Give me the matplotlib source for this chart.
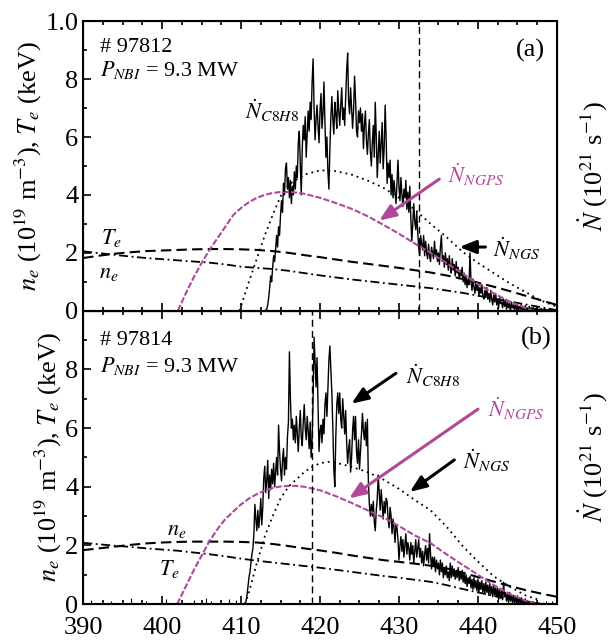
import numpy as np
import matplotlib
matplotlib.use("Agg")
import matplotlib.pyplot as plt
from matplotlib.ticker import MultipleLocator

plt.rcParams['font.family'] = ['Liberation Serif', 'DejaVu Serif']
plt.rcParams['mathtext.fontset'] = 'stix'

MAGENTA = '#b0489a'

# smooth profiles, sampled every 2 s
t_smooth = [390, 392, 394, 396, 398, 400, 402, 404, 406, 408, 410, 412, 414, 416, 418, 420,
            422, 424, 426, 428, 430, 432, 434, 436, 438, 440, 442, 444, 446, 448, 450]

# shot 97812
a_dash = [1.82, 1.90, 1.97, 2.02, 2.06, 2.08, 2.10, 2.12, 2.13, 2.13, 2.12, 2.10, 2.06, 2.00, 1.92, 1.85,
          1.77, 1.69, 1.62, 1.55, 1.48, 1.40, 1.32, 1.22, 1.10, 0.97, 0.83, 0.68, 0.52, 0.36, 0.20]
a_dashdot = [2.05, 1.99, 1.93, 1.87, 1.82, 1.78, 1.74, 1.70, 1.66, 1.60, 1.52, 1.48, 1.44, 1.38, 1.30, 1.22,
             1.15, 1.08, 1.02, 0.96, 0.90, 0.84, 0.78, 0.70, 0.62, 0.52, 0.42, 0.32, 0.22, 0.12, 0.02]
a_ngps_t = [402, 403, 404, 405, 406, 407, 408, 409, 410, 411, 412, 413, 414, 415, 416, 417, 418, 420,
            422, 424, 426, 428, 430, 432, 434, 436, 438, 440, 442, 444, 446, 447]
a_ngps = [0.0, 0.6, 1.15, 1.65, 2.1, 2.5, 2.9, 3.3, 3.55, 3.75, 3.9, 4.0, 4.07, 4.1, 4.1, 4.08, 4.04, 3.9,
          3.72, 3.52, 3.27, 2.97, 2.66, 2.32, 2.0, 1.65, 1.3, 0.92, 0.6, 0.32, 0.1, 0.0]
a_ngs_t = [409.8, 411, 412, 413, 414, 415, 416, 418, 420, 422, 424, 426, 428, 430, 432, 434, 436, 438,
           440, 442, 444, 446, 448, 450]
a_ngs = [0.0, 1.0, 1.8, 2.6, 3.3, 3.95, 4.35, 4.7, 4.85, 4.82, 4.7, 4.5, 4.25, 3.9, 3.5, 3.0, 2.55, 2.05,
         1.65, 1.3, 0.95, 0.65, 0.35, 0.14]
# C8H8 rate, one value every 0.125 s from 413.0 s
a_c8h8_start = 413.0
a_c8h8 = [0.0, 0.02, 0.05, 0.2, 0.45, 0.8, 1.2, 1.0, 1.5, 1.9, 1.7, 2.1, 2.6, 2.2, 2.9, 2.6,
          3.3, 3.8, 3.4, 4.4, 4.0, 4.9, 5.1, 4.2, 4.6, 3.9, 4.5, 3.7, 4.3, 4.0, 4.8, 4.2,
          5.0, 4.6, 5.8, 6.2, 5.1, 4.0, 5.6, 6.4, 5.9, 6.7, 5.3, 6.1, 6.9, 6.2, 7.2, 6.6,
          7.9, 8.7, 7.0, 5.9, 6.6, 7.1, 6.4, 5.8, 6.9, 7.5, 6.3, 6.8, 7.9, 6.5, 5.3, 6.0,
          4.8, 4.2, 5.6, 6.7, 7.4, 6.6, 6.1, 7.2, 6.8, 6.3, 7.6, 6.9, 6.4, 7.1, 7.7, 6.6,
          7.0, 6.4, 7.3, 8.3, 8.9, 7.2, 6.8, 7.7, 7.0, 6.3, 6.9, 8.1, 7.3, 6.2, 6.0, 6.9,
          6.5, 7.0, 6.2, 6.8, 5.6, 6.4, 6.9, 5.9, 5.4, 6.1, 6.6, 5.5, 5.0, 5.8, 6.4, 5.3,
          7.2, 6.0, 4.6, 5.4, 6.2, 5.1, 5.8, 6.5, 4.9, 5.6, 7.1, 6.0, 4.4, 5.1, 4.6, 5.2,
          4.0, 4.7, 3.9, 4.5, 4.1, 3.7, 4.4, 5.2, 4.3, 3.8, 4.6, 4.0, 3.6, 4.2, 3.9, 4.5,
          3.5, 4.1, 3.4, 4.3, 3.2, 2.4, 3.0, 3.7, 3.1, 2.8, 3.4, 2.7, 2.2, 1.9, 2.6, 2.3,
          2.1, 2.6, 1.9, 2.4, 2.0, 1.8, 2.3, 1.9, 1.7, 2.2, 2.0, 1.8, 2.4, 1.9, 2.1, 1.7,
          2.0, 1.6, 2.2, 2.6, 1.7, 1.9, 1.5, 2.0, 1.6, 1.8, 1.4, 1.9, 1.5, 1.3, 1.8, 1.4,
          1.6, 1.2, 1.7, 1.3, 1.5, 1.1, 1.4, 1.2, 1.5, 1.0, 1.3, 0.9, 1.2, 0.8, 1.1, 0.9,
          2.0, 1.0, 0.7, 1.1, 0.8, 0.6, 1.0, 0.7, 0.9, 0.5, 0.8, 0.6, 0.9, 0.5, 0.4, 0.7,
          0.5, 0.8, 0.4, 0.6, 0.3, 0.7, 0.4, 0.2, 0.55, 0.3, 0.6, 0.2, 0.4, 0.1, 0.45, 0.25,
          0.3, 0.1, 0.4, 0.15, 0.35, 0.05, 0.3, 0.1, 0.25, -0.05, 0.3, 0.1, 0.2, 0.0, 0.25, 0.05,
          0.2, 0.0, 0.15, 0.05, 0.22, -0.05, 0.12, 0.02, 0.18, 0.0, 0.1, -0.03, 0.15, 0.02, 0.1, 0.0,
          0.12, 0.0, 0.08, 0.02, 0.1, -0.02, 0.06, 0.0, 0.08, 0.02, 0.05, 0.0, 0.07, 0.0, 0.04, 0.0,
          0.05, 0.0, 0.03, 0.01, 0.04, 0.0, 0.02, 0.0, 0.01]

# shot 97814
b_dash = [1.84, 1.90, 1.96, 2.02, 2.07, 2.10, 2.12, 2.13, 2.13, 2.13, 2.12, 2.10, 2.05, 1.98, 1.90, 1.83,
          1.75, 1.66, 1.58, 1.50, 1.44, 1.38, 1.31, 1.22, 1.08, 0.92, 0.77, 0.62, 0.48, 0.36, 0.25]
b_dashdot = [2.09, 2.04, 1.99, 1.95, 1.90, 1.86, 1.82, 1.76, 1.70, 1.63, 1.55, 1.48, 1.42, 1.36, 1.30, 1.24,
             1.17, 1.10, 1.03, 0.96, 0.90, 0.83, 0.76, 0.65, 0.52, 0.40, 0.28, 0.17, 0.08, 0.02, 0.0]
b_ngps_t = [401.9, 403, 404, 405, 406, 407, 408, 409, 410, 411, 412, 413, 414, 415, 416, 417, 418, 420,
            422, 424, 426, 428, 430, 432, 434, 436, 438, 440, 442, 444, 446, 447.5]
b_ngps = [0.0, 0.6, 1.15, 1.65, 2.15, 2.55, 2.9, 3.15, 3.4, 3.6, 3.75, 3.87, 3.96, 4.01, 4.03, 4.03, 4.0, 3.88,
          3.68, 3.45, 3.2, 2.96, 2.66, 2.34, 2.08, 1.7, 1.35, 1.0, 0.65, 0.35, 0.12, 0.0]
b_ngs_t = [410.5, 411, 412, 413, 414, 415, 416, 418, 419, 420, 421, 422, 424, 426, 428, 430, 432, 434,
           436, 438, 440, 442, 444, 446, 448]
b_ngs = [0.0, 0.4, 1.4, 2.3, 3.0, 3.6, 4.0, 4.5, 4.68, 4.8, 4.85, 4.82, 4.68, 4.5, 4.25, 3.93, 3.55, 3.2,
         2.65, 2.0, 1.45, 0.95, 0.6, 0.3, 0.12]
# C8H8 rate, one value every 0.125 s from 410.5 s
b_c8h8_start = 410.5
b_c8h8 = [0.0, 0.1, 0.3, 0.6, 0.9, 1.1, 1.4, 1.7, 1.9, 2.4, 3.4, 2.9, 2.5, 3.2, 2.6, 3.0,
          3.6, 2.7, 3.3, 4.3, 4.7, 3.8, 4.2, 4.9, 3.6, 4.4, 3.9, 4.6, 4.1, 4.8, 4.0, 4.5,
          5.0, 4.4, 6.1, 5.2, 4.6, 4.2, 4.9, 5.3, 4.4, 5.0, 4.6, 5.7, 6.2, 8.6, 7.0, 6.0,
          6.3, 5.6, 6.1, 5.5, 6.4, 5.8, 5.2, 6.0, 6.6, 5.7, 5.4, 6.2, 6.8, 6.0, 5.6, 6.4,
          5.9, 5.3, 6.2, 5.0, 5.6, 7.0, 9.1, 8.2, 7.4, 8.4, 6.8, 5.2, 5.9, 6.1, 5.5, 6.3,
          5.8, 6.8, 7.2, 6.4, 7.4, 8.3, 8.8, 8.0, 7.2, 6.0, 4.6, 4.0, 5.7, 6.8, 7.2, 6.5,
          7.2, 6.3, 6.0, 7.0, 6.4, 5.8, 6.6, 5.5, 4.8, 5.3, 5.6, 4.5, 5.0, 5.9, 6.4, 5.6,
          6.4, 5.2, 4.8, 5.6, 4.6, 5.2, 5.8, 6.5, 5.9, 5.6, 6.2, 5.4, 6.3, 4.2, 3.4, 3.0,
          3.4, 3.0, 3.5, 2.8, 2.5, 3.2, 3.6, 4.4, 3.8, 3.2, 3.9, 3.4, 2.9, 3.5, 3.1, 3.6,
          3.5, 2.9, 2.6, 3.3, 3.0, 2.4, 2.9, 2.6, 2.1, 2.7, 2.6, 2.2, 1.5, 2.0, 2.3, 1.8,
          2.2, 1.6, 2.0, 2.4, 1.7, 2.1, 1.9, 1.5, 2.1, 1.7, 2.0, 1.4, 1.8, 2.2, 1.6, 1.9,
          2.2, 1.6, 1.9, 1.4, 1.8, 1.3, 1.7, 2.0, 1.5, 1.9, 1.4, 2.4, 1.7, 1.2, 1.6, 1.3,
          1.6, 1.1, 1.5, 1.2, 1.4, 1.0, 1.5, 1.1, 1.4, 0.9, 1.2, 1.0, 1.3, 0.9, 1.1, 0.8,
          1.4, 0.9, 1.3, 0.95, 1.2, 0.85, 1.15, 0.9, 1.25, 0.8, 1.1, 0.85, 1.15, 0.75, 1.05, 0.7,
          1.0, 0.6, 0.9, 0.7, 0.95, 0.55, 0.85, 0.5, 0.9, 0.55, 0.8, 0.45, 0.85, 0.4, 0.75, 0.5,
          0.8, 0.4, 0.7, 0.35, 0.75, 0.4, 0.65, 0.3, 0.7, 0.35, 0.6, 0.25, 0.65, 0.3, 0.55, 0.25,
          0.55, 0.15, 0.5, 0.2, 0.45, 0.15, 0.75, 0.25, 0.4, 0.1, 0.35, 0.05, 0.4, 0.1, 0.3, 0.05,
          0.3, 0.05, 0.25, 0.0, 0.28, 0.05, 0.2, 0.0, 0.22, 0.02, 0.15, 0.0, 0.18, 0.0, 0.12, 0.02,
          0.1, 0.0, 0.06, 0.0, 0.08, 0.0, 0.05, 0.0, 0.03, 0.0, 0.04, 0.0, 0.02]
b_spike_t = [391.0, 393.5, 396.0, 398.0, 400.5, 404.0, 405.5, 406.2, 408.5, 409.3, 448.6, 449.4]
b_spike_h = [0.15, 0.12, 0.2, 0.1, 0.18, 0.15, 0.22, 0.12, 0.18, 0.14, 0.12, 0.1]

fig = plt.figure(figsize=(6.16, 6.42), dpi=100)
ax_a = fig.add_axes([0.135, 0.516, 0.769, 0.451])
ax_b = fig.add_axes([0.135, 0.059, 0.769, 0.457])

lab_kw = dict(fontsize=16)
ylab = r'$n_e$ (10$^{19}$ m$^{-3}$), $T_e$ (keV)'
rlab = r'$\dot{N}$ (10$^{21}$ s$^{-1}$)'
arrow = '-|>,head_width=0.4,head_length=1.0'


def draw_panel(ax, dash, dashdot, ngps_t, ngps, ngs_t, ngs, c_start, c8h8, vline):
    tc = c_start + 0.125 * np.arange(len(c8h8))
    ax.plot(tc, c8h8, color='black', lw=1.0)
    ax.plot(t_smooth, dash, color='black', lw=1.5, ls=(0, (5, 2.5)))
    ax.plot(t_smooth, dashdot, color='black', lw=1.3, ls=(0, (5, 2, 1, 2)))
    ax.plot(ngps_t, ngps, color=MAGENTA, lw=1.5, ls=(0, (3, 1)))
    ax.plot(ngs_t, ngs, color='black', lw=1.3, ls=(0, (1, 2.2)))
    ax.axvline(vline, color='black', lw=1.0, ls=(0, (5, 3)))
    ax.set_xlim(390, 450)
    ax.set_ylim(0, 10)
    ax.xaxis.set_major_locator(MultipleLocator(10))
    ax.xaxis.set_minor_locator(MultipleLocator(2.5))
    ax.yaxis.set_major_locator(MultipleLocator(2))
    ax.yaxis.set_minor_locator(MultipleLocator(1))
    ax.tick_params(which='both', direction='in', top=True, right=True, labelsize=19, width=1.2)
    ax.tick_params(which='major', length=6)
    ax.tick_params(which='minor', length=3)
    ax.tick_params(axis='x', pad=9)
    for s in ax.spines.values():
        s.set_linewidth(1.5)
    ax.set_ylabel(ylab, fontsize=19, labelpad=1)
    ax2 = ax.twinx()
    ax2.set_ylim(0, 10)
    ax2.set_yticks([])
    ax2.set_ylabel(rlab, fontsize=19, labelpad=14)


draw_panel(ax_a, a_dash, a_dashdot, a_ngps_t, a_ngps, a_ngs_t, a_ngs, a_c8h8_start, a_c8h8, 432.5)
draw_panel(ax_b, b_dash, b_dashdot, b_ngps_t, b_ngps, b_ngs_t, b_ngs, b_c8h8_start, b_c8h8, 419.0)
ax_b.vlines(b_spike_t, 0, b_spike_h, color='black', lw=0.8)

ax_a.set_yticks([0, 2, 4, 6, 8, 10])
ax_a.set_yticklabels(['0', '2', '4', '6', '8', '1.0'])
ax_a.tick_params(labelbottom=False)
ax_b.set_yticks([0, 2, 4, 6, 8])

# panel (a) annotations
ax_a.text(0.036, 0.91, '# 97812', transform=ax_a.transAxes, va='center', **lab_kw)
ax_a.text(0.036, 0.83, r'$P_{NBI}$ = 9.3 MW', transform=ax_a.transAxes, va='center', **lab_kw)
ax_a.text(0.945, 0.90, '(a)', transform=ax_a.transAxes, ha='center', va='center', fontsize=19)
ax_a.text(410.5, 6.9, r'$\dot{N}_{C8H8}$', va='center', **lab_kw)
ax_a.text(436.2, 4.7, r'$\dot{N}_{NGPS}$', va='center', color=MAGENTA, **lab_kw)
ax_a.text(441.9, 2.15, r'$\dot{N}_{NGS}$', va='center', **lab_kw)
ax_a.text(392.2, 2.5, r'$T_e$', va='center', **lab_kw)
ax_a.text(392.0, 1.3, r'$n_e$', va='center', **lab_kw)
ax_a.annotate('', xy=(427.2, 3.06), xytext=(435.4, 4.6),
              arrowprops=dict(arrowstyle=arrow, color=MAGENTA, lw=2.2))
ax_a.annotate('', xy=(437.3, 2.2), xytext=(441.3, 2.2),
              arrowprops=dict(arrowstyle=arrow, color='black', lw=2.2))

# panel (b) annotations
ax_b.text(0.036, 0.90, '# 97814', transform=ax_b.transAxes, va='center', **lab_kw)
ax_b.text(0.036, 0.81, r'$P_{NBI}$ = 9.3 MW', transform=ax_b.transAxes, va='center', **lab_kw)
ax_b.text(0.956, 0.905, '(b)', transform=ax_b.transAxes, ha='center', va='center', fontsize=19)
ax_b.text(430.9, 7.8, r'$\dot{N}_{C8H8}$', va='center', **lab_kw)
ax_b.text(441.3, 6.67, r'$\dot{N}_{NGPS}$', va='center', color=MAGENTA, **lab_kw)
ax_b.text(438.1, 4.9, r'$\dot{N}_{NGS}$', va='center', **lab_kw)
ax_b.text(400.6, 2.5, r'$n_e$', va='center', **lab_kw)
ax_b.text(399.6, 1.2, r'$T_e$', va='center', **lab_kw)
ax_b.annotate('', xy=(423.7, 6.78), xytext=(429.9, 7.92),
              arrowprops=dict(arrowstyle=arrow, color='black', lw=2.2))
ax_b.annotate('', xy=(423.4, 3.55), xytext=(440.3, 6.7),
              arrowprops=dict(arrowstyle=arrow, color=MAGENTA, lw=2.2))
ax_b.annotate('', xy=(431.1, 3.77), xytext=(437.3, 4.97),
              arrowprops=dict(arrowstyle=arrow, color='black', lw=2.2))

fig.savefig('out.png', dpi=100)
